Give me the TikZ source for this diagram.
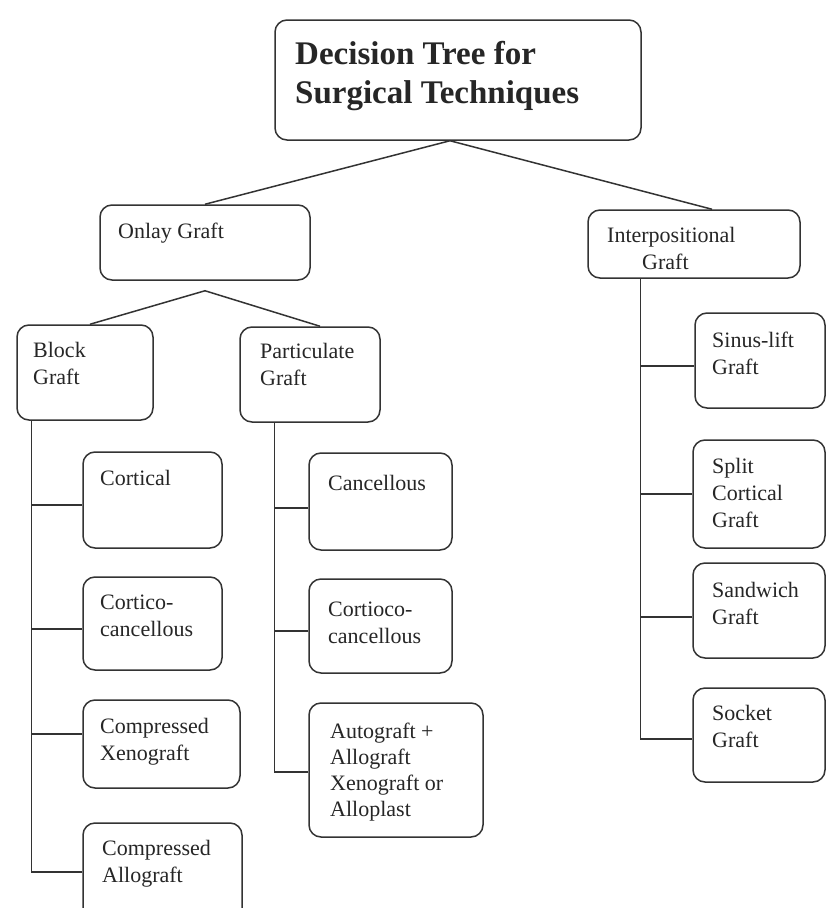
\documentclass[tikz,border=0pt]{standalone}
\usepackage{fontspec}
\setmainfont{Liberation Serif}
\usetikzlibrary{fit}
\newcommand{\gbx}[5]{\node[gbox, fit={(#2,#3) (#4,#5)}] (#1) {};}
\newcommand{\hcon}[3]{\path ([yshift=#2]#1.west) coordinate (#1-c); \draw[conn] (#1-c) -- (#1-c -| #3);}
\begin{document}
\begin{tikzpicture}[x=1pt,y=-1pt,
  gbox/.style={draw=black!80, line width=1.5pt, rounded corners=12pt, inner sep=0pt},
  lbl/.style={anchor=north west, inner sep=0pt, align=left, font=\fontsize{22}{27}\selectfont, text=black!85},
  conn/.style={draw=black!80, line width=1.5pt}]
\useasboundingbox (0,0) rectangle (827,908);
\clip (0,0) rectangle (827,908);
\fill[white] (0,0) rectangle (827,908);

% boxes
\gbx{title}{275}{20}{641}{140}
\gbx{onlay}{100}{205}{310}{280}
\gbx{interp}{588}{210}{800}{278}
\gbx{block}{17}{325}{153}{420}
\gbx{partic}{240}{327}{380}{422}
\gbx{cortical}{83}{452}{222}{548}
\gbx{corticocan}{83}{577}{222}{670}
\gbx{xeno}{83}{700}{240}{788}
\gbx{allo}{83}{823}{242}{925}
\gbx{cancellous}{309}{453}{452}{550}
\gbx{cortioco}{309}{579}{452}{673}
\gbx{auto}{309}{703}{483}{837}
\gbx{sinus}{695}{313}{825}{408}
\gbx{split}{693}{440}{825}{548}
\gbx{sandwich}{693}{563}{825}{658}
\gbx{socket}{693}{688}{825}{782}

% texts
\node[lbl, font=\fontsize{33}{39}\selectfont\bfseries] (title-t) at (295,41) {Decision Tree for\\Surgical Techniques};
\node[lbl] (onlay-t) at (118,223) {Onlay Graft};
\node[lbl] (block-t) at (33,342) {Block\\Graft};
\node[lbl] (partic-t) at (260,343) {Particulate\\Graft};
\node[lbl] (interp-t) at (607,227) {Interpositional\\\hspace*{35pt}Graft};
\node[lbl] (sinus-t) at (712,332) {Sinus-lift\\Graft};
\node[lbl] (cortical-t) at (100,470) {Cortical};
\node[lbl] (corticocan-t) at (100,595) {Cortico-\\cancellous};
\node[lbl] (xeno-t) at (100,718) {Compressed\\Xenograft};
\node[lbl] (allo-t) at (102,840) {Compressed\\Allograft};
\node[lbl] (cancellous-t) at (328,475) {Cancellous};
\node[lbl] (cortioco-t) at (328,602) {Cortioco-\\cancellous};
\node[lbl, font=\fontsize{22}{26}\selectfont] (auto-t) at (330,723) {Autograft +\\Allograft\\Xenograft or\\Alloplast};
\node[lbl] (split-t) at (712,458) {Split\\Cortical\\Graft};
\node[lbl] (sandwich-t) at (712,582) {Sandwich\\Graft};
\node[lbl] (socket-t) at (712,705) {Socket\\Graft};

% top-level connectors
\draw[conn] (onlay.north) -- ([xshift=-8pt]title.south) -- ([xshift=18pt]interp.north);
\coordinate (oj) at ([yshift=-10pt]onlay.south);
\draw[conn] ([xshift=5pt]block.north) -- (oj) -- ([xshift=10pt]partic.north);

% block graft column
\coordinate (bv) at ([xshift=15pt]block.south west);
\hcon{cortical}{-5pt}{bv}
\hcon{corticocan}{-5.5pt}{bv}
\hcon{xeno}{10pt}{bv}
\hcon{allo}{2pt}{bv}
\draw[conn] (bv) -- (bv |- allo-c);

% particulate column
\coordinate (pv) at ([xshift=35pt]partic.south west);
\hcon{cancellous}{-6.5pt}{pv}
\hcon{cortioco}{-5pt}{pv}
\hcon{auto}{-2pt}{pv}
\draw[conn] (pv) -- (pv |- auto-c);

% interpositional column
\coordinate (iv) at ([xshift=53pt]interp.south west);
\hcon{sinus}{-5.5pt}{iv}
\hcon{split}{0pt}{iv}
\hcon{sandwich}{-6.5pt}{iv}
\hcon{socket}{-4pt}{iv}
\draw[conn] (iv) -- (iv |- socket-c);
\end{tikzpicture}
\end{document}
